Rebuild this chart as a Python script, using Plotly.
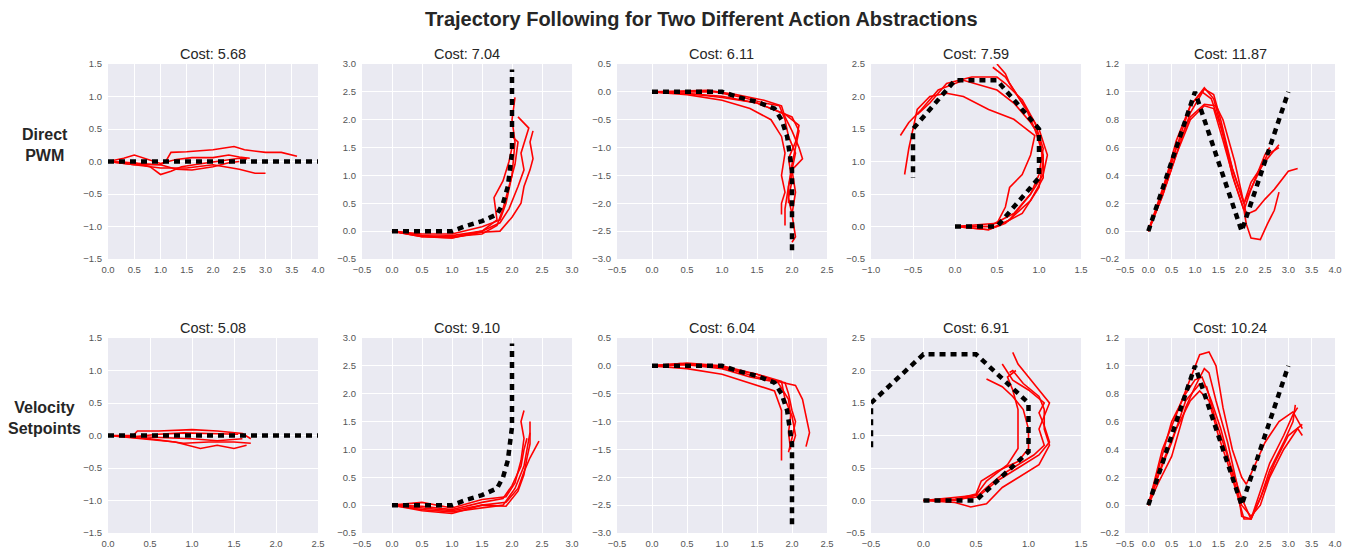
import plotly.graph_objects as go

W, H = 1353, 548

# ---------------- reference (target) paths ----------------
ref_line_x = [0.0, 4.0]
ref_line_y = [0.0, 0.0]
ref_left_x = [0.0, 1.0, 1.25, 1.5, 1.75, 1.85, 1.93, 1.97, 2.0, 2.0]
ref_left_y = [0.0, 0.0, 0.1, 0.18, 0.3, 0.5, 0.8, 1.1, 1.4, 2.9]
ref_right_x = [0.0, 1.0, 1.25, 1.5, 1.75, 1.85, 1.93, 1.97, 2.0, 2.0]
ref_right_y = [0.0, 0.0, -0.1, -0.18, -0.3, -0.5, -0.8, -1.1, -1.4, -2.9]
ref_circle_x = [0.0, 0.5, 1.0, 1.0, 0.5, 0.0, -0.5, -0.5]
ref_circle_y = [0.0, 0.0, 0.75, 1.5, 2.25, 2.25, 1.5, 0.75]
ref_zigzag_x = [0.0, 1.0, 2.0, 3.0]
ref_zigzag_y = [0.0, 1.0, 0.0, 1.0]

# ---------------- Direct PWM runs ----------------
pwm_line_x = [
    [0, 0.5, 1.0, 1.1, 1.2, 1.5, 2.0, 2.4, 2.6, 3.0, 3.3, 3.6],
    [0, 0.5, 1.0, 1.5, 2.0, 2.5, 2.8, 3.0],
    [0, 0.3, 0.5, 0.7, 1.0, 1.3, 1.6, 2.0, 2.3, 2.5, 2.7],
    [0, 0.5, 0.8, 1.0, 1.2, 1.4, 1.8, 2.2, 2.5, 2.65],
    [0, 0.5, 1.0, 1.3, 1.6, 2.0, 2.3, 2.5],
]
pwm_line_y = [
    [0, -0.03, -0.05, 0.0, 0.14, 0.15, 0.18, 0.23, 0.18, 0.14, 0.14, 0.08],
    [0, -0.05, -0.1, -0.1, -0.05, -0.12, -0.18, -0.18],
    [0, 0.05, 0.1, 0.05, -0.03, 0.03, 0.06, 0.06, 0.1, 0.07, 0.05],
    [0, -0.02, -0.08, -0.2, -0.15, -0.08, -0.03, 0.02, 0.05, 0.04],
    [0, -0.05, -0.05, -0.12, -0.13, -0.08, -0.02, 0.0],
]
pwm_left_x = [
    [0, 0.5, 1.0, 1.5, 1.8, 1.9, 2.0, 2.05, 2.0, 2.05],
    [0, 0.5, 1.0, 1.5, 1.8, 1.95, 2.1, 2.2, 2.15, 2.28, 2.1],
    [0, 0.6, 1.0, 1.5, 1.8, 2.0, 2.15, 2.2, 2.3, 2.35, 2.3, 2.35],
    [0, 0.5, 1.0, 1.5, 1.75, 1.85, 1.95, 2.05, 2.1, 2.0],
    [0, 0.5, 1.0, 1.5, 1.75, 1.7, 1.85, 1.95, 2.0],
]
pwm_left_y = [
    [0, -0.05, -0.05, 0.08, 0.2, 0.5, 1.0, 1.6, 2.0, 2.4],
    [0, -0.1, -0.12, 0.0, 0.15, 0.4, 0.8, 1.1, 1.4, 1.85, 2.05],
    [0, -0.1, -0.12, -0.02, 0.0, 0.25, 0.5, 0.8, 1.1, 1.3, 1.6, 1.8],
    [0, -0.08, -0.1, -0.05, 0.1, 0.4, 0.8, 1.2, 1.6, 1.7],
    [0, -0.1, -0.08, 0.0, 0.2, 0.6, 0.9, 1.25, 1.5],
]
pwm_right_x = [
    [0, 0.5, 0.8, 1.2, 1.6, 1.85, 1.9, 2.0, 2.1, 2.15, 2.0, 2.05, 2.0, 2.05, 2.0],
    [0, 0.5, 1.0, 1.5, 1.8, 2.0, 2.1, 2.05, 2.0, 1.95, 1.9, 1.9],
    [0, 0.5, 1.0, 1.4, 1.7, 1.85, 1.9, 1.85, 1.9, 1.85, 1.85],
    [0, 0.5, 1.0, 1.5, 1.9, 2.1, 2.05, 1.95, 2.0, 1.95, 2.0],
    [0, 0.5, 0.9, 1.3, 1.6, 1.82, 1.9, 1.95, 2.05, 2.0, 1.95, 1.95],
]
pwm_right_y = [
    [0, 0.02, 0.03, -0.05, -0.15, -0.25, -0.45, -0.7, -1.0, -1.2, -1.4, -1.8, -2.2, -2.6, -2.7],
    [0, -0.03, -0.1, -0.2, -0.35, -0.45, -0.7, -1.0, -1.3, -1.7, -2.1, -2.4],
    [0, -0.05, -0.15, -0.3, -0.5, -0.8, -1.1, -1.5, -1.8, -2.0, -2.2],
    [0, -0.03, -0.08, -0.2, -0.4, -0.6, -0.9, -1.2, -1.6, -1.9, -2.2],
    [0, 0.0, 0.0, -0.1, -0.2, -0.25, -0.5, -0.8, -1.1, -1.4, -1.7, -2.0],
]
pwm_circle_x = [
    [0, 0.5, 0.8, 1.0, 1.05, 1.0, 0.9, 0.7, 0.5, 0.1, -0.2, -0.4, -0.55, -0.65],
    [0, 0.4, 0.65, 0.9, 1.05, 1.1, 1.0, 0.8, 0.65, 0.6, 0.5],
    [0, 0.5, 0.6, 0.65, 0.8, 0.9, 0.95, 0.7, 0.4, 0.1, -0.1, -0.3, -0.45, -0.5, -0.55, -0.6],
    [0, 0.4, 0.7, 0.9, 1.0, 1.05, 0.95, 0.8, 0.6, 0.5, 0.2, -0.1, -0.3, -0.45],
    [0, 0.4, 0.6, 0.9, 1.05, 1.05, 0.95, 0.85, 0.7, 0.6, 0.45],
]
pwm_circle_y = [
    [0, 0.0, 0.2, 0.6, 1.0, 1.4, 1.6, 1.9, 2.1, 2.25, 2.1, 1.8, 1.6, 1.4],
    [0, -0.05, 0.1, 0.5, 0.8, 1.1, 1.5, 1.9, 2.2, 2.35, 2.5],
    [0, 0.05, 0.3, 0.6, 0.8, 1.1, 1.4, 1.65, 1.8, 2.0, 2.05, 2.0, 1.8, 1.5, 1.2, 0.8],
    [0, 0.0, 0.2, 0.5, 0.8, 1.2, 1.6, 1.95, 2.2, 2.3, 2.3, 2.2, 1.9, 1.72],
    [0, -0.05, 0.05, 0.4, 0.75, 1.1, 1.5, 1.8, 2.1, 2.3, 2.45],
]
pwm_zigzag_x = [
    [0, 0.3, 0.6, 0.9, 1.2, 1.4, 1.6, 1.8, 2.05, 2.2, 2.5, 2.6],
    [0, 0.3, 0.6, 0.9, 1.2, 1.4, 1.55, 1.8, 2.05, 2.2, 2.5, 2.8],
    [0, 0.3, 0.6, 0.9, 1.2, 1.45, 1.6, 1.85, 2.1, 2.3, 2.5, 2.7, 3.0, 3.2],
    [0, 0.3, 0.6, 0.9, 1.2, 1.4, 1.6, 1.85, 2.05, 2.1, 2.2, 2.4, 2.55, 2.7, 2.8],
    [0, 0.3, 0.6, 0.9, 1.15, 1.35, 1.55, 1.8, 2.05, 2.3, 2.55, 2.8],
]
pwm_zigzag_y = [
    [0, 0.3, 0.6, 0.9, 1.03, 0.95, 0.7, 0.4, 0.15, 0.3, 0.55, 0.6],
    [0, 0.25, 0.55, 0.85, 1.02, 0.98, 0.8, 0.45, 0.2, 0.35, 0.5, 0.62],
    [0, 0.27, 0.6, 0.82, 0.91, 0.9, 0.8, 0.5, 0.12, 0.15, 0.23, 0.3, 0.43, 0.45],
    [0, 0.25, 0.55, 0.8, 0.9, 0.88, 0.65, 0.35, 0.15, 0.05, -0.05, -0.06, 0.05, 0.15, 0.28],
    [0, 0.28, 0.65, 0.9, 1.0, 0.95, 0.75, 0.45, 0.2, 0.38, 0.55, 0.6],
]

# ---------------- Velocity Setpoints runs ----------------
vel_line_x = [
    [0, 0.3, 0.35, 0.6, 1.0, 1.3, 1.6, 1.7],
    [0, 0.4, 0.8, 1.1, 1.3, 1.5, 1.65],
    [0, 0.5, 0.9, 1.2, 1.5, 1.7],
    [0, 0.5, 1.0, 1.3, 1.6],
    [0, 0.3, 0.6, 0.9, 1.2, 1.55],
]
vel_line_y = [
    [0, 0.0, 0.07, 0.07, 0.09, 0.07, 0.03, -0.05],
    [0, -0.05, -0.1, -0.2, -0.15, -0.2, -0.15],
    [0, -0.05, -0.12, -0.1, -0.1, -0.12],
    [0, -0.03, -0.05, -0.08, -0.05],
    [0, -0.02, 0.02, 0.04, 0.03, 0.02],
]
vel_left_x = [
    [0, 0.5, 1.0, 1.5, 1.9, 2.05, 2.15, 2.2, 2.15, 2.2],
    [0, 0.5, 1.0, 1.5, 1.85, 2.05, 2.2, 2.25, 2.3, 2.3],
    [0, 0.5, 1.0, 1.5, 1.9, 2.1, 2.2, 2.3, 2.4, 2.45],
    [0, 0.5, 1.0, 1.5, 1.9, 2.1, 2.2, 2.25, 2.3, 2.3],
    [0, 0.5, 1.0, 1.5, 1.85, 2.0, 2.15, 2.2, 2.25],
]
vel_left_y = [
    [0, 0.05, -0.05, 0.1, 0.15, 0.4, 0.8, 1.2, 1.5, 1.7],
    [0, -0.08, -0.12, -0.05, 0.0, 0.3, 0.7, 1.0, 1.3, 1.5],
    [0, -0.1, -0.15, 0.0, 0.05, 0.3, 0.6, 0.85, 1.05, 1.15],
    [0, -0.05, -0.1, 0.0, -0.02, 0.25, 0.55, 0.85, 1.1, 1.3],
    [0, -0.02, -0.08, 0.05, 0.12, 0.35, 0.7, 1.0, 1.2],
]
vel_right_x = [
    [0, 0.5, 1.0, 1.5, 1.8, 2.05, 2.15, 2.2, 2.25, 2.2],
    [0, 0.5, 1.0, 1.5, 1.9, 1.95, 2.0, 2.05, 2.0, 1.95],
    [0, 0.5, 1.0, 1.5, 1.75, 1.85, 1.85, 1.85, 1.85],
    [0, 0.5, 1.0, 1.4, 1.8, 1.95, 1.98, 1.95, 1.98],
    [0, 0.4, 1.0, 1.5, 1.85, 1.9, 2.0, 2.05, 2.0],
]
vel_right_y = [
    [0, 0.05, 0.0, -0.15, -0.28, -0.35, -0.6, -0.9, -1.2, -1.45],
    [0, 0.03, -0.02, -0.2, -0.3, -0.5, -0.8, -1.0, -1.3, -1.55],
    [0, -0.05, -0.15, -0.35, -0.45, -0.8, -1.2, -1.5, -1.7],
    [0, 0.02, -0.05, -0.2, -0.3, -0.6, -0.9, -1.2, -1.5],
    [0, 0.04, -0.03, -0.15, -0.28, -0.6, -0.9, -1.25, -1.45],
]
vel_circle_x = [
    [0, 0.3, 0.5, 0.6, 0.75, 0.9, 1.05, 1.15, 1.1, 1.15, 1.2, 1.1, 1.0, 0.9, 0.85],
    [0, 0.3, 0.45, 0.6, 0.75, 0.95, 1.1, 1.2, 1.15, 1.15, 1.1, 0.95, 0.85, 0.82],
    [0, 0.3, 0.55, 0.7, 0.9, 1.1, 1.2, 1.15, 1.1, 1.15, 1.0, 0.85, 0.75],
    [0, 0.3, 0.5, 0.55, 0.7, 0.9, 1.0, 1.0, 0.95, 0.85, 0.75, 0.6],
    [0, 0.3, 0.5, 0.6, 0.8, 0.9, 0.9, 0.9, 0.85, 0.8, 0.88],
]
vel_circle_y = [
    [0, 0.02, 0.05, 0.2, 0.4, 0.55, 0.7, 0.85, 1.1, 1.3, 1.5, 1.7, 1.9, 2.1, 2.28],
    [0, -0.03, -0.1, -0.05, 0.2, 0.4, 0.55, 0.85, 1.1, 1.4, 1.6, 1.8, 2.0, 1.97],
    [0, 0.0, 0.1, 0.3, 0.5, 0.7, 0.9, 1.15, 1.35, 1.5, 1.7, 1.85, 2.1],
    [0, 0.02, 0.1, 0.3, 0.45, 0.6, 0.8, 1.1, 1.4, 1.6, 1.75, 1.87],
    [0, 0.05, 0.08, 0.3, 0.55, 0.8, 1.1, 1.4, 1.7, 1.9, 2.0],
]
vel_zigzag_x = [
    [0, 0.3, 0.6, 0.9, 1.1, 1.3, 1.45, 1.6, 1.8, 2.0, 2.1, 2.3, 2.5, 2.8, 3.1, 3.3],
    [0, 0.2, 0.5, 0.8, 1.0, 1.2, 1.3, 1.45, 1.7, 1.9, 2.0, 2.2, 2.4, 2.6, 2.9, 3.1, 3.15],
    [0, 0.2, 0.5, 0.8, 1.1, 1.25, 1.45, 1.7, 1.9, 2.0, 2.2, 2.4, 2.6, 2.9, 3.2, 3.3],
    [0, 0.3, 0.6, 0.9, 1.1, 1.3, 1.5, 1.7, 1.9, 2.05, 2.2, 2.4, 2.6, 2.9, 3.1, 3.2],
    [0, 0.3, 0.5, 0.8, 1.0, 1.15, 1.35, 1.55, 1.75, 2.0, 2.2, 2.4, 2.7, 3.0, 3.3],
]
vel_zigzag_y = [
    [0, 0.4, 0.65, 0.9, 1.08, 1.1, 1.0, 0.7, 0.4, 0.2, 0.15, 0.3, 0.45, 0.6, 0.67, 0.55],
    [0, 0.15, 0.35, 0.7, 0.85, 0.98, 0.95, 0.75, 0.45, 0.15, -0.08, -0.1, 0.05, 0.25, 0.45, 0.6, 0.72],
    [0, 0.2, 0.45, 0.75, 0.87, 0.85, 0.6, 0.35, 0.1, 0.0, -0.08, 0.0, 0.2, 0.4, 0.55, 0.5],
    [0, 0.3, 0.55, 0.75, 0.82, 0.75, 0.5, 0.3, 0.08, -0.1, -0.1, 0.1, 0.3, 0.5, 0.65, 0.7],
    [0, 0.35, 0.6, 0.8, 0.9, 0.92, 0.75, 0.55, 0.3, 0.05, -0.1, 0.05, 0.3, 0.5, 0.58],
]

costs_pwm = ["5.68", "7.04", "6.11", "7.59", "11.87"]
costs_vel = ["5.08", "9.10", "6.04", "6.91", "10.24"]
row_labels = ["Direct<br>PWM", "Velocity<br>Setpoints"]
main_title = "Trajectory Following for Two Different Action Abstractions"

# axis ranges and tick steps
xr_pwm = [(0, 4), (-0.5, 3), (-0.5, 2.5), (-1, 1.5), (-0.5, 4)]
yr_pwm = [(-1.5, 1.5), (-0.5, 3), (-3, 0.5), (-0.5, 2.5), (-0.2, 1.2)]
xr_vel = [(0, 2.5), (-0.5, 3), (-0.5, 2.5), (-0.5, 1.5), (-0.5, 4)]
yr_vel = [(-1.5, 1.5), (-0.5, 3), (-3, 0.5), (-0.5, 2.5), (-0.2, 1.2)]
ydt = [0.5, 0.5, 0.5, 0.5, 0.2]

refs = [(ref_line_x, ref_line_y), (ref_left_x, ref_left_y), (ref_right_x, ref_right_y),
        (ref_circle_x, ref_circle_y), (ref_zigzag_x, ref_zigzag_y)]
runs_pwm = [(pwm_line_x, pwm_line_y), (pwm_left_x, pwm_left_y), (pwm_right_x, pwm_right_y),
            (pwm_circle_x, pwm_circle_y), (pwm_zigzag_x, pwm_zigzag_y)]
runs_vel = [(vel_line_x, vel_line_y), (vel_left_x, vel_left_y), (vel_right_x, vel_right_y),
            (vel_circle_x, vel_circle_y), (vel_zigzag_x, vel_zigzag_y)]

# ---------------- layout geometry (pixels) ----------------
col_px = [(108, 318), (362, 572), (617, 827), (871, 1081), (1125, 1335)]
row_px = [(64, 259), (338, 533)]

fig = go.Figure()
layout = dict(
    template="none",
    width=W, height=H, margin=dict(l=0, r=0, t=0, b=0, autoexpand=False),
    paper_bgcolor="white", plot_bgcolor="#EAEAF2", showlegend=False,
    font=dict(family="Liberation Sans, Arial, sans-serif", color="#262626"),
)
annotations = []
FONT = "Liberation Sans, Arial, sans-serif"
eps = 1e-6

idx = 0
for r in range(2):
    runs = runs_pwm if r == 0 else runs_vel
    xrs = xr_pwm if r == 0 else xr_vel
    yrs = yr_pwm if r == 0 else yr_vel
    costs = costs_pwm if r == 0 else costs_vel
    top, bot = row_px[r]
    for c in range(5):
        idx += 1
        sfx = "" if idx == 1 else str(idx)
        xa, ya = "x" + sfx, "y" + sfx
        left, right = col_px[c]
        xs_all, ys_all = runs[c]
        for xs, ys in zip(xs_all, ys_all):
            fig.add_trace(go.Scatter(x=xs, y=ys, mode="lines", xaxis=xa, yaxis=ya,
                                     line=dict(color="#FF0000", width=1.6),
                                     hoverinfo="skip"))
        rx, ry = refs[c]
        fig.add_trace(go.Scatter(x=rx, y=ry, mode="lines", xaxis=xa, yaxis=ya,
                                 line=dict(color="black", width=4.5, dash="6px,5px"),
                                 hoverinfo="skip"))
        common = dict(showgrid=True, gridcolor="white", gridwidth=1, zeroline=False,
                      showline=False, ticks="", tickformat=".1f", automargin=False,
                      tickfont=dict(size=9.5, color="#555555", family=FONT))
        layout["xaxis" + sfx] = dict(
            domain=[left / W, right / W], anchor=ya,
            range=[xrs[c][0] - eps, xrs[c][1] + eps], dtick=0.5, tick0=0,
            ticklabelstandoff=3, **common)
        layout["yaxis" + sfx] = dict(
            domain=[(H - bot) / H, (H - top) / H], anchor=xa,
            range=[yrs[c][0] - eps, yrs[c][1] + eps], dtick=ydt[c], tick0=0,
            ticklabelstandoff=5, **common)
        annotations.append(dict(
            text="Cost: " + costs[c], xref="paper", yref="paper",
            x=(left + right) / 2 / W, y=(H - (top - 10)) / H,
            xanchor="center", yanchor="middle", showarrow=False,
            font=dict(size=14.5, color="#262626", family=FONT)))
    annotations.append(dict(
        text="<b>" + row_labels[r] + "</b>", xref="paper", yref="paper",
        x=45 / W, y=(H - (145 if r == 0 else 418)) / H,
        xanchor="center", yanchor="middle", showarrow=False, align="center",
        font=dict(size=16, color="#262626", family=FONT)))

annotations.append(dict(
    text="<b>" + main_title + "</b>", xref="paper", yref="paper",
    x=702 / W, y=(H - 19) / H, xanchor="center", yanchor="middle", showarrow=False,
    font=dict(size=20, color="#262626", family=FONT)))

layout["annotations"] = annotations
fig.update_layout(**layout)
fig.write_html("out.html")
